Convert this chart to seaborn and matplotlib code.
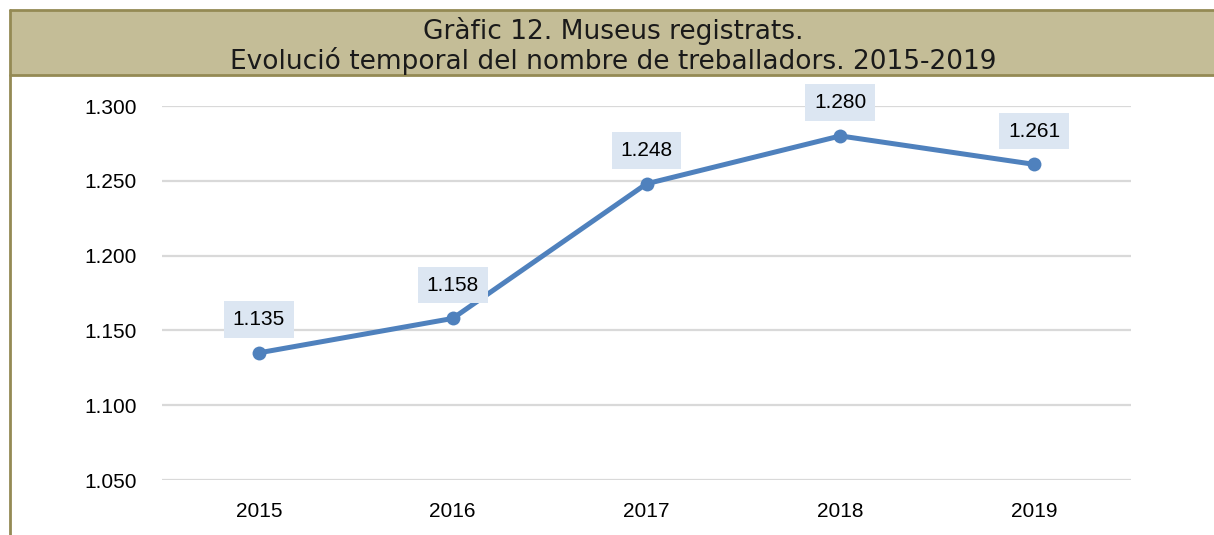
import pandas as pd
import matplotlib.pyplot as plt
import seaborn as sns
from matplotlib.patches import Rectangle
from matplotlib.lines import Line2D

# Data
years = ['2015', '2016', '2017', '2018', '2019']
workers = [1135, 1158, 1248, 1280, 1261]
y_ticks = [1050, 1100, 1150, 1200, 1250, 1300]
y_labels = ['1.050', '1.100', '1.150', '1.200', '1.250', '1.300']

title = 'Gràfic 12. Museus registrats.\nEvolució temporal del nombre de treballadors. 2015-2019'

df = pd.DataFrame({'year': years, 'workers': workers})

sns.set_style('white')
plt.rcParams['font.family'] = ['Liberation Sans', 'DejaVu Sans']

W, H = 1214, 535
fig = plt.figure(figsize=(W / 100, H / 100), dpi=100)
ax = fig.add_axes([162 / W, 1 - 480 / H, (1131 - 162) / W, (480 - 106) / H])

line_color = '#4F81BD'
sns.lineplot(data=df, x='year', y='workers', ax=ax, color=line_color,
             linewidth=3.6, marker='o', markersize=10, markeredgewidth=0,
             sort=False, zorder=3)

for i, (yr, v) in enumerate(zip(years, workers)):
    ax.annotate(f'{v / 1000:.3f}', xy=(i, v), xytext=(0, 24), textcoords='offset points',
                ha='center', va='center', fontsize=15, color='black',
                bbox=dict(boxstyle='square,pad=0.42', fc='#DCE6F2', ec='none'), zorder=4)

ax.set_xlim(-0.5, len(years) - 0.5)
ax.set_ylim(1050, 1300)
ax.set_yticks(y_ticks)
ax.set_yticklabels(y_labels)
ax.yaxis.grid(True, color='#D9D9D9', linewidth=1.6)
ax.set_axisbelow(True)
ax.tick_params(axis='both', length=0, labelsize=15, colors='black')
ax.tick_params(axis='y', pad=18)
ax.tick_params(axis='x', pad=16)
ax.set_xlabel('')
ax.set_ylabel('')
sns.despine(ax=ax, left=True, bottom=True)

# title banner
olive = '#948A54'
fig.patches.append(Rectangle((10 / W, 1 - 75 / H), 1, 65 / H, transform=fig.transFigure,
                             facecolor='#C4BD97', edgecolor='none', zorder=0))
fig.lines.append(Line2D([10 / W, 1], [1 - 10 / H] * 2, transform=fig.transFigure, color=olive, linewidth=2))
fig.lines.append(Line2D([10 / W, 1], [1 - 75 / H] * 2, transform=fig.transFigure, color=olive, linewidth=2))
fig.lines.append(Line2D([10 / W] * 2, [1 - 10 / H, 0], transform=fig.transFigure, color=olive, linewidth=2))

fig.text(613 / W, 1 - 46 / H, title, ha='center', va='center', fontsize=19,
         family=['DejaVu Sans'], linespacing=1.12, color='#1a1a1a')

fig.savefig('out.png', dpi=100)
